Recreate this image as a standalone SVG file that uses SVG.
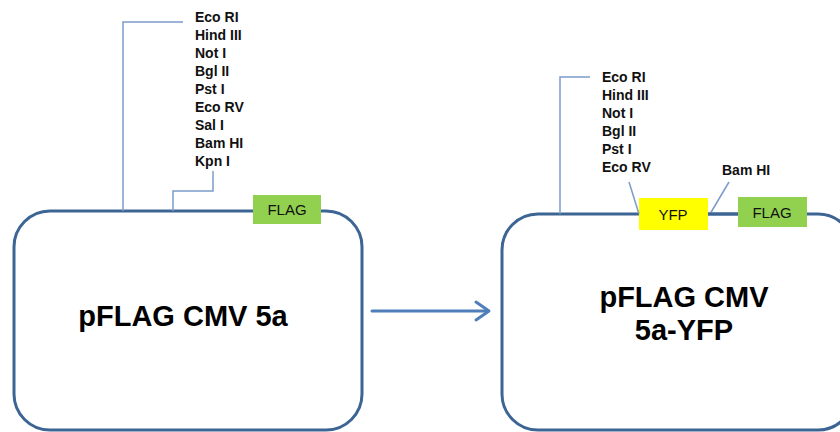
<svg xmlns="http://www.w3.org/2000/svg" width="840" height="432" viewBox="0 0 840 432">
<defs>
<style>
.box{fill:#fff;stroke:#3D6594;stroke-width:3}
.thin{fill:none;stroke:#7C9CCB;stroke-width:1.5}
.site{font-family:"Liberation Sans",Arial,sans-serif;font-weight:bold;font-size:14px;fill:#111}
.title{font-family:"Liberation Sans",Arial,sans-serif;font-weight:bold;font-size:29px;fill:#000;text-anchor:middle}
.tag{font-family:"Liberation Sans",Arial,sans-serif;font-size:15px;fill:#111;text-anchor:middle}
.arrow{fill:none;stroke:#4F7FBA;stroke-width:3;stroke-linecap:round;stroke-linejoin:round}
</style>
</defs>
<rect width="840" height="432" fill="#fff"/>
<g id="plasmid1">
<rect class="box" x="14" y="211" width="348" height="219" rx="36"/>
<text class="title" x="183" y="326">pFLAG CMV 5a</text>
</g>
<g id="flag1">
<rect x="253" y="195" width="68" height="29" fill="#92D050"/>
<text class="tag" x="287" y="215">FLAG</text>
</g>
<g id="sites1">
<text class="site" x="195" y="22">Eco RI</text>
<text class="site" x="195" y="40">Hind III</text>
<text class="site" x="195" y="58">Not I</text>
<text class="site" x="195" y="76">Bgl II</text>
<text class="site" x="195" y="94">Pst I</text>
<text class="site" x="195" y="112">Eco RV</text>
<text class="site" x="195" y="130">Sal I</text>
<text class="site" x="195" y="148">Bam HI</text>
<text class="site" x="195" y="166">Kpn I</text>
</g>
<g id="plasmid2">
<rect class="box" x="502" y="214" width="352" height="216" rx="36"/>
<text class="title" x="684" y="307">pFLAG CMV</text>
<text class="title" x="684" y="340">5a-YFP</text>
</g>
<g id="yfp">
<rect x="639" y="198" width="69" height="32" fill="#FFFF00"/>
<text class="tag" x="673" y="220">YFP</text>
</g>
<g id="flag2">
<rect x="738" y="197" width="69" height="30" fill="#92D050"/>
<text class="tag" x="772" y="218">FLAG</text>
</g>
<g id="sites2">
<text class="site" x="602" y="82">Eco RI</text>
<text class="site" x="602" y="100">Hind III</text>
<text class="site" x="602" y="118">Not I</text>
<text class="site" x="602" y="136">Bgl II</text>
<text class="site" x="602" y="154">Pst I</text>
<text class="site" x="602" y="172">Eco RV</text>
<text class="site" x="722" y="175">Bam HI</text>
</g>
<g id="connectors">
<polyline class="thin" points="183,22 123,22 123,211"/>
<polyline class="thin" points="173,211 173,191 213,191 213,171"/>
<polyline class="thin" points="590,77 560,77 560,214"/>
<line class="thin" x1="629" y1="182" x2="639" y2="214"/>
<line class="thin" x1="729" y1="182" x2="710" y2="214"/>
<line x1="708" y1="214" x2="738" y2="214" stroke="#3D6594" stroke-width="3"/>
<polyline class="arrow" points="372,311 488,311"/>
<polyline class="arrow" points="476,302 489,311 476,320"/>
</g>
</svg>
